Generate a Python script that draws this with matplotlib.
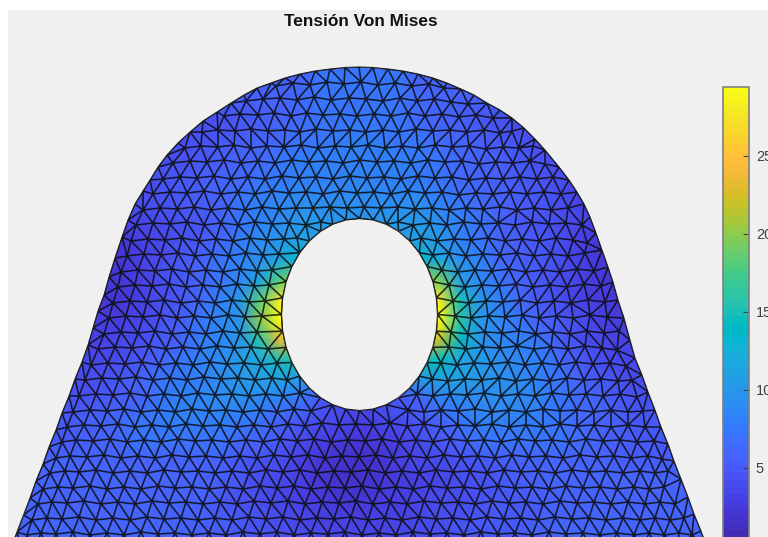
import numpy as np
import matplotlib
matplotlib.use("Agg")
import matplotlib.pyplot as plt
import matplotlib.tri as mtri
from matplotlib.colors import ListedColormap, Normalize
from matplotlib.path import Path
from matplotlib.patches import PathPatch, Rectangle

plt.rcParams['font.family'] = ['Liberation Sans', 'DejaVu Sans']

title = "Tensión Von Mises"
cbar_ticks = [5, 10, 15, 20, 25]
stress_min = 0.1
stress_max = 29.4

# outer edge of the plate
outline = [
    (4, 566), (10, 550), (17, 532), (23.5, 515), (30, 498), (36, 481), (43, 464), (49, 447), (56, 430), (62, 413),
    (69, 396), (75, 379), (82, 362), (88, 345), (93, 328), (98, 311), (104, 295), (109, 277), (115, 258),
    (122, 237), (128, 220), (135, 204), (143, 191), (150, 180), (158, 167), (167, 155), (178, 143),
    (190, 132), (203, 121), (217, 112), (231, 103), (244, 95), (257, 88), (271, 83), (285, 78), (300, 74),
    (315, 71), (330, 69), (345, 67.5), (359, 67), (373, 67.5), (388, 69), (403, 71), (418, 74), (433, 78),
    (447, 83), (461, 89), (474, 95), (487, 103), (500, 110), (512, 118), (524, 128), (535, 139), (545, 150),
    (559, 167), (569, 180), (577, 192), (584, 204), (590, 217), (596, 233), (602, 250), (608, 267),
    (613, 282), (618, 300), (624, 318), (630, 340), (635, 358), (642, 375), (648, 392), (655, 410),
    (661, 427), (668, 444), (674, 461), (681, 479), (688, 497), (694, 514), (701, 531), (708, 550), (714, 566),
]

# the hole
hole = [
    (437.5, 314.5), (436.3, 297.8), (432.8, 281.7), (427, 266.5), (419.2, 252.8), (409.6, 241), (398.5, 231.4),
    (386.2, 224.3), (373.1, 220), (359.5, 218.5), (345.9, 220), (332.8, 224.3), (320.5, 231.4), (309.4, 241),
    (299.8, 252.8), (292, 266.5), (286.2, 281.7), (282.7, 297.8), (281.5, 314.5), (282.7, 331.2), (286.2, 347.3),
    (292, 362.5), (299.8, 376.2), (309.4, 388), (320.5, 397.6), (332.8, 404.7), (345.9, 409), (359.5, 410.5),
    (373.1, 409), (386.2, 404.7), (398.5, 397.6), (409.6, 388), (419.2, 376.2), (427, 362.5), (432.8, 347.3),
    (436.3, 331.2),
]

# interior mesh nodes, row by row
mesh_nodes = [
    (276,86),(293,83),(310,85),(327,82),(344,84),(361,82),(378,85),(395,83),(412,86),(429,84),(444,88),
    (246,101),(263,99),(280,98),(297,100),(314,97),(331,100),(349,98),(366,99),(383,101),(400,98),(417,101),(434,99),(451,102),(468,104),
    (224,116),(240,114),(258,115),(274,113),(291,116),(307,113),(323,115),(340,114),(357,116),(374,114),(391,116),(408,113),(425,116),(442,114),(459,117),(476,115),(493,118),
    (202,132),(218,130),(235,131),(251,129),(268,131),(285,130),(300,132),(316,129),(333,131),(350,130),(366,132),(383,130),(399,132),(416,129),(433,131),(450,130),(467,132),(484,130),(500,133),(512,131),
    (185,148),(201,146),(218,147),(234,145),(251,148),(267,146),(284,147),(301,145),(318,148),(335,146),(351,147),(368,145),(385,148),(402,146),(418,148),(435,145),(452,147),(469,146),(486,149),(503,147),(519,148),(533,146),
    (173,163),(190,161),(207,162),(224,160),(241,163),(258,161),(275,163),(292,160),(309,162),(326,161),(343,163),(360,160),(377,162),(394,161),(411,163),(428,160),(445,162),(462,161),(479,164),(496,162),(513,163),(530,161),(545,164),
    (163,179),(180,177),(197,178),(214,176),(231,179),(248,177),(265,179),(282,176),(299,178),(316,177),(333,179),(350,176),(367,178),(384,177),(401,179),(418,176),(435,178),(452,177),(469,180),(486,178),(503,179),(520,177),(537,179),(553,177),
    (153,194),(170,192),(187,193),(204,191),(221,194),(238,192),(255,194),(272,191),(289,193),(306,192),(323,194),(340,191),(357,193),(374,192),(391,194),(408,191),(425,193),(442,192),(459,195),(476,193),(493,194),(510,192),(527,194),(544,192),(561,194),
    (143,210),(160,208),(177,209),(194,207),(211,210),(228,208),(245,210),(262,207),(279,209),(296,208),(313,208),(330,207),(347,208),(364,207),(381,208),(398,207),(415,209),(432,208),(449,210),(466,208),(483,209),(500,207),(517,210),(534,208),(551,210),(568,208),
    (136,225),(153,223),(170,224),(187,222),(204,225),(221,223),(238,225),(255,222),(272,224),(289,223),(306,225),(321,222),(398,222),(413,225),(430,223),(447,225),(464,222),(481,224),(498,223),(515,225),(532,222),(549,224),(566,223),(582,225),
    (131,241),(148,239),(165,240),(182,238),(199,241),(216,239),(233,241),(250,238),(267,240),(284,239),(297,238),(421,238),(437,241),(454,239),(471,240),(488,238),(505,241),(522,239),(539,241),(556,238),(573,240),(587,243),
    (127,256),(144,254),(161,255),(178,253),(195,256),(212,254),(229,256),(246,253),(263,255),(279,254),(433,255),(449,253),(466,256),(483,254),(500,255),(517,253),(534,256),(551,254),(568,256),(585,253),
    (121,272),(138,270),(155,271),(172,269),(189,272),(206,270),(223,272),(240,269),(257,271),(272,270),(442,270),(458,272),(475,270),(492,271),(509,269),(526,272),(543,270),(560,272),(577,269),(594,271),
    (118,287),(135,285),(152,286),(169,284),(186,287),(203,285),(220,287),(237,284),(254,286),(269,285),(449,285),(465,287),(482,285),(499,286),(516,284),(533,287),(550,285),(567,287),(584,284),(601,286),
    (113,303),(130,301),(147,302),(164,300),(181,303),(198,301),(215,303),(232,300),(249,302),(265,301),(453,301),(469,303),(486,301),(503,302),(520,300),(537,303),(554,301),(571,303),(588,300),(605,302),
    (109,318),(126,316),(143,317),(160,315),(177,318),(194,316),(211,318),(228,315),(245,317),(262,316),(455,316),(471,318),(488,316),(505,317),(522,315),(539,318),(556,316),(573,318),(590,315),(607,317),
    (104,334),(121,332),(138,333),(155,331),(172,334),(189,332),(206,334),(223,331),(240,333),(257,332),(451,332),(468,334),(485,332),(502,333),(519,331),(536,334),(553,332),(570,334),(587,331),(604,333),(619,331),
    (98,349),(115,347),(132,348),(149,346),(166,349),(183,347),(200,349),(217,346),(234,348),(251,347),(268,349),(449,347),(466,349),(483,347),(500,348),(517,346),(534,349),(551,347),(568,349),(585,346),(602,348),(617,350),
    (91,365),(108,363),(125,364),(142,362),(159,365),(176,363),(193,365),(210,362),(227,364),(244,363),(261,365),(277,363),(441,363),(457,365),(474,363),(491,364),(508,362),(525,365),(542,363),(559,365),(576,362),(593,364),(610,363),(626,366),
    (85,380),(102,378),(119,379),(136,377),(153,380),(170,378),(187,380),(204,377),(221,379),(238,378),(255,380),(272,378),(287,380),(432,379),(448,381),(465,379),(482,380),(499,378),(516,381),(533,379),(550,381),(567,378),(584,380),(601,379),(618,381),(632,380),
    (79,396),(96,394),(113,395),(130,393),(147,396),(164,394),(181,396),(198,393),(215,395),(232,394),(249,396),(266,394),(283,396),(300,393),(417,394),(433,396),(450,394),(467,395),(484,393),(501,396),(518,394),(535,396),(552,393),(569,395),(586,394),(603,396),(620,394),(637,397),
    (73,412),(90,410),(107,411),(124,409),(141,412),(158,410),(175,412),(192,409),(209,411),(226,410),(243,412),(260,410),(277,412),(294,409),(311,411),(408,410),(424,412),(441,410),(458,411),(475,409),(492,412),(509,410),(526,412),(543,409),(560,411),(577,410),(594,412),(611,410),(628,412),(643,411),
    (67,427),(84,425),(101,426),(118,424),(135,427),(152,425),(169,427),(186,424),(203,426),(220,425),(237,427),(254,425),(271,427),(288,424),(305,426),(322,423),(339,425),(356,424),(373,425),(390,423),(407,426),(424,424),(441,427),(458,425),(475,426),(492,424),(509,427),(526,425),(543,427),(560,424),(577,426),(594,425),(611,427),(628,425),(645,427),
    (62,442),(76,440),(93,441),(110,439),(127,442),(144,440),(161,442),(178,439),(195,441),(212,440),(229,442),(246,440),(263,442),(280,439),(297,441),(314,439),(331,442),(348,440),(365,441),(382,439),(399,442),(416,440),(433,442),(450,439),(467,441),(484,440),(501,442),(518,439),(535,441),(552,440),(569,442),(586,439),(603,441),(620,440),(637,442),(654,441),
    (56,458),(70,456),(87,457),(104,455),(121,458),(138,456),(155,458),(172,455),(189,457),(206,456),(223,458),(240,456),(257,458),(274,455),(291,457),(308,455),(325,458),(342,456),(359,457),(376,455),(393,458),(410,456),(427,458),(444,455),(461,457),(478,456),(495,458),(512,455),(529,457),(546,456),(563,458),(580,455),(597,457),(614,456),(631,458),(648,456),(662,459),
    (50,473),(65,471),(79,472),(96,470),(113,473),(130,471),(147,473),(164,470),(181,472),(198,471),(215,473),(232,471),(249,473),(266,470),(283,472),(300,470),(317,473),(334,471),(351,472),(368,470),(385,473),(402,471),(419,473),(436,470),(453,472),(470,471),(487,473),(504,470),(521,472),(538,471),(555,473),(572,470),(589,472),(606,471),(623,473),(640,471),(655,473),(668,471),
    (43,489),(58,487),(73,488),(90,486),(107,489),(124,487),(141,489),(158,486),(175,488),(192,487),(209,489),(226,487),(243,489),(260,486),(277,488),(294,486),(311,489),(328,487),(345,488),(362,486),(379,489),(396,487),(413,489),(430,486),(447,488),(464,487),(481,489),(498,486),(515,488),(532,487),(549,489),(566,486),(583,488),(600,487),(617,489),(634,487),(649,489),(664,487),
    (38,504),(52,502),(67,503),(84,501),(101,504),(118,502),(135,504),(152,501),(169,503),(186,502),(203,504),(220,502),(237,504),(254,501),(271,503),(288,501),(305,504),(322,502),(339,503),(356,501),(373,504),(390,502),(407,504),(424,501),(441,503),(458,502),(475,504),(492,501),(509,503),(526,502),(543,504),(560,501),(577,503),(594,502),(611,504),(628,502),(645,504),(660,502),(675,504),
    (32,520),(47,518),(62,519),(79,517),(96,520),(113,518),(130,520),(147,517),(164,519),(181,518),(198,520),(215,518),(232,520),(249,517),(266,519),(283,517),(300,520),(317,518),(334,519),(351,517),(368,520),(385,518),(402,520),(419,517),(436,519),(453,518),(470,520),(487,517),(504,519),(521,518),(538,520),(555,517),(572,519),(589,518),(606,520),(623,518),(640,520),(655,518),(670,520),(684,518),
    (27,535),(41,533),(56,534),(73,532),(90,535),(107,533),(124,535),(141,532),(158,534),(175,533),(192,535),(209,533),(226,535),(243,532),(260,534),(277,532),(294,535),(311,533),(328,534),(345,532),(362,535),(379,533),(396,535),(413,532),(430,534),(447,533),(464,535),(481,532),(498,534),(515,533),(532,535),(549,532),(566,534),(583,533),(600,535),(617,533),(634,535),(649,533),(664,535),(679,533),(692,535),
    (22,551),(34,549),(48,551),(65,549),(82,551),(99,549),(116,551),(133,549),(150,551),(167,549),(184,551),(201,549),(218,551),(235,549),(252,551),(269,549),(286,551),(303,549),(320,551),(337,549),(354,551),(371,549),(388,551),(405,549),(422,551),(439,549),(456,551),(473,549),(490,551),(507,549),(524,551),(541,549),(558,551),(575,549),(592,551),(609,549),(626,551),(643,549),(660,551),(677,549),(694,551),
]

# stress estimated from the colours, one value every 20 px
stress_x = list(range(0, 721, 20))
stress_y = list(range(60, 541, 20))
stress = [
    [4,4,4,4,4,4,4,4,4,4,4,5,5,6,6,6,7,7,7,7,7,6,6,6,5,5,5,4,4,4,4,4,4,4,4,4,4],
    [4,4,4,4,4,4,4,4,4,4,4,5,5,6,6,6,7,7,7,7,7,6,6,6,5,5,5,4,4,4,4,4,4,4,4,4,4],
    [4,4,4,4,4,4,4,4,4,4,4.5,5,5.5,6,6,6.5,7,7,7,7,7,6.5,6,6,5.5,5,4.5,4,4,4,4,4,4,4,4,4,4],
    [4,4,4,4,4,4,4,4,4,4,4,4.5,5,5.5,6,6.5,7,7,7,7,7,6.5,6,5.5,5,4.5,4,4,4,4,4,4,4,4,4,4,4],
    [4,4,4,4,4,4,4,4,4,4,4.5,5,5.5,6,6.5,7,7,7.5,8,7.5,7,7,6.5,6,5.5,5,4.5,4,4,4,4,4,4,4,4,4,4],
    [4,4,4,4,4,4,4,4,4,4.5,5,5.5,6,6.5,7,7.5,8,8,8,8,8,7.5,7,6.5,6,5.5,5,4.5,4,4,4,4,4,4,4,4,4],
    [3.5,3.5,3.5,3.5,3.5,3.5,3.5,4,4.5,5,5.5,6,6.5,7,7.5,8,8,8,8.5,8,8,7.5,7,6.5,6,5.5,5,4.5,4,3.5,3.5,3.5,3.5,3.5,3.5,3.5,3.5],
    [3,3,3,3,3,3,3,4,4.5,5,5.5,6,7,8,8.5,9,9,9,9,9,9,9,8,7,6.5,6,5.5,5,4,3,3,3,3,3,3,3,3],
    [3,3,3,3,3,3,3,3.5,4,4.5,5,6,7,8,9,10,10,10,10,10,10,10,9,8,7,6,5,4.5,4,3.5,3,3,3,3,3,3,3],
    [2,2,2,2,2,2,2,3,3.5,4.5,5,6,7.5,9,10,11,11,11,11,11,11,11,10,8,7,6,5.5,5,4,3,2,2,2,2,2,2,2],
    [2,2,2,2,2,2,2,3,4,5,6,7,8,9.5,12,14,14,14,14,14,14,14,12,9.5,8,6.5,5.5,5,4,3,2,2,2,2,2,2,2],
    [2,2,2,2,2,2,2,3,4,5,6,7,8.5,12,18,22,22,22,22,22,22,22,19,11,8.5,7,6,5,4,3,2.5,2,2,2,2,2,2],
    [2,2,2,2,2,2,2,3,4,5,6.5,8,10,18,28,29,29,29,29,29,29,29,28,15,10,8,6.5,5,4,3,2.5,2,2,2,2,2,2],
    [2.5,2.5,2.5,2.5,2.5,2.5,2.5,3.5,4.5,5.5,7,8.5,10,20,29,29,29,29,29,29,29,29,30,16,10,8.5,7,6,5,4,3,2.5,2.5,2.5,2.5,2.5,2.5],
    [3,3,3,3,3,3,3.5,4,5,6,7.5,8.5,10,16,23,24,24,24,24,24,24,24,22,14,10,8.5,8,7,5.5,4,3.5,3,3,3,3,3,3],
    [3.5,3.5,3.5,3.5,3.5,3.5,4,5,6,7,8,9,10.5,12,15,15,15,15,15,15,15,15,14,11.5,10.5,9,8.5,8,6.5,5,4,3.5,3.5,3.5,3.5,3.5,3.5],
    [4,4,4,4,4,4.5,5,6,7,7.5,8,9,10,11,11,10,8,7,7,7,8,10,11,11,10,9.5,9,8,7,6,5,4.5,4,4,4,4,4],
    [4.5,4.5,4.5,4.5,4.5,5,5.5,6,7,8,8.5,9,9,8.5,8,7,5,4,4,4,5,6,8,8.5,9,9,9,8,7,6.5,6,5,4.5,4.5,4.5,4.5,4.5],
    [5,5,5,5,5.5,6,6.5,7,7.5,8,8,8,7.5,7,6,5,4,3.5,3,3.5,4,5,6,7,8,8,8,7.5,7,6.5,6,5.5,5,5,5,5,5],
    [5,5,5,5,5.5,6,6.5,7,7,7,7,7,6.5,6,5,4,3,2.5,2,2.5,3,4,5,6,7,7,7,7,7,6.5,6,5.5,5,5,5,5,5],
    [6,6,6,6,6,6,6,6,6,6,6,6,5,4.5,4,3,2,1.5,1.5,1.5,3,3.5,4,4.5,5,5.5,6,6,6,6,6,5.5,5.5,5.5,5.5,5.5,5.5],
    [6,6,6,6,6,6,6,6,6,6,6,5.5,5,4,3.5,3,2,1.5,1.5,2,2.5,3,3.5,4,4.5,5,5.5,6,6,6,6,6,6,6,6,6,6],
    [6,6,6,6,6,6,6,6,6,6,6,5,4.5,4,3.5,3,2.5,2,2,2.5,3,3.5,4,4,4.5,5,5,5.5,6,6,6,6,6,6,6,6,6],
    [6,6,6,6,6,6,6,6,6,6,5.5,5.5,5,4.5,4,3.5,3,3,3,3,3,3.5,4,4.5,5,5,5,5.5,6,6,6,6,6,6,6,6,6],
    [6.5,6.5,6.5,6.5,6.5,6.5,6.5,6.5,6.5,6.5,6,5.5,5,5,4.5,4.5,4,3.5,3.5,3.5,4,4,4.5,5,5,5,5.5,6,6.5,6.5,6.5,6.5,6.5,6.5,6.5,6.5,6.5],
]

parula = [
    (0.2422,0.1504,0.6603),(0.2504,0.1650,0.7076),(0.2578,0.1818,0.7511),(0.2647,0.1978,0.7952),
    (0.2706,0.2147,0.8364),(0.2751,0.2342,0.8710),(0.2783,0.2559,0.8991),(0.2803,0.2782,0.9221),
    (0.2813,0.3006,0.9414),(0.2810,0.3228,0.9579),(0.2795,0.3447,0.9717),(0.2760,0.3667,0.9829),
    (0.2699,0.3892,0.9906),(0.2602,0.4123,0.9952),(0.2440,0.4358,0.9988),(0.2206,0.4603,0.9973),
    (0.1963,0.4847,0.9892),(0.1834,0.5074,0.9798),(0.1786,0.5289,0.9682),(0.1764,0.5499,0.9520),
    (0.1687,0.5703,0.9359),(0.1540,0.5902,0.9218),(0.1460,0.6091,0.9079),(0.1380,0.6276,0.8973),
    (0.1248,0.6459,0.8883),(0.1113,0.6635,0.8763),(0.0952,0.6798,0.8598),(0.0689,0.6948,0.8394),
    (0.0297,0.7082,0.8163),(0.0036,0.7203,0.7917),(0.0067,0.7312,0.7660),(0.0433,0.7411,0.7394),
    (0.0964,0.7500,0.7120),(0.1408,0.7584,0.6842),(0.1717,0.7670,0.6554),(0.1938,0.7758,0.6251),
    (0.2161,0.7843,0.5923),(0.2470,0.7918,0.5567),(0.2906,0.7973,0.5188),(0.3406,0.8008,0.4789),
    (0.3909,0.8029,0.4354),(0.4456,0.8024,0.3909),(0.5044,0.7993,0.3480),(0.5616,0.7942,0.3045),
    (0.6174,0.7876,0.2612),(0.6720,0.7793,0.2227),(0.7242,0.7698,0.1910),(0.7738,0.7598,0.1646),
    (0.8203,0.7498,0.1535),(0.8634,0.7406,0.1596),(0.9035,0.7330,0.1774),(0.9393,0.7288,0.2100),
    (0.9728,0.7298,0.2394),(0.9956,0.7434,0.2371),(0.9970,0.7659,0.2199),(0.9952,0.7893,0.2028),
    (0.9892,0.8136,0.1885),(0.9786,0.8386,0.1766),(0.9676,0.8639,0.1643),(0.9610,0.8890,0.1537),
    (0.9597,0.9135,0.1423),(0.9628,0.9373,0.1265),(0.9691,0.9606,0.1064),(0.9769,0.9839,0.0805),
]

cmap = ListedColormap(parula)
norm = Normalize(stress_min, stress_max)

fig = plt.figure(figsize=(7.68, 5.37), dpi=100, facecolor='white')
ax = fig.add_axes([0, 0, 1, 1])
ax.set_xlim(0, 768)
ax.set_ylim(537, 0)
ax.axis('off')

# grey window behind everything, white strip left and top
ax.add_patch(Rectangle((8, 10), 760, 527, facecolor='#f0f0f0', edgecolor='none', zorder=0))

# plate with hole, used for clipping and for the edge line
outer_path = Path(np.array(outline + [outline[0]]))
hole_path = Path(np.array(hole + [hole[0]]))
plate_path = Path.make_compound_path(outer_path, hole_path)
plate_patch = PathPatch(plate_path, facecolor='none', edgecolor='#222222', lw=0.8, zorder=4)
ax.add_patch(plate_patch)

field = ax.pcolormesh(stress_x, stress_y, np.array(stress), shading='gouraud', cmap=cmap, norm=norm, zorder=1)
field.set_clip_path(plate_path, ax.transData)

# triangulate the nodes and drop what falls outside the plate
nodes = np.array(outline + hole + mesh_nodes, dtype=float)
tri = mtri.Triangulation(nodes[:, 0], nodes[:, 1])
cx = nodes[tri.triangles, 0].mean(axis=1)
cy = nodes[tri.triangles, 1].mean(axis=1)
centers = np.column_stack([cx, cy])
tri.set_mask(~outer_path.contains_points(centers) | hole_path.contains_points(centers))
lines = ax.triplot(tri, color='#0c0c0c', lw=1.15, alpha=0.85, zorder=3)
for line in lines:
    line.set_clip_path(plate_path, ax.transData)

ax.text(361, 22, title, ha='center', va='center', fontsize=12.4, fontweight='bold', color='#111111')

# colorbar runs past the bottom of the picture
cax = fig.add_axes([723 / 768, -7 / 537, 26 / 768, 457 / 537])
cb = fig.colorbar(field, cax=cax)
cb.set_ticks(cbar_ticks)
cb.ax.tick_params(direction='in', length=4, width=0.8, color='#404040', labelcolor='#404040', labelsize=10.5, pad=5)
cb.outline.set_edgecolor('#7f7f7f')
cb.outline.set_linewidth(1.2)

fig.savefig("out.png", dpi=100, facecolor=fig.get_facecolor())
